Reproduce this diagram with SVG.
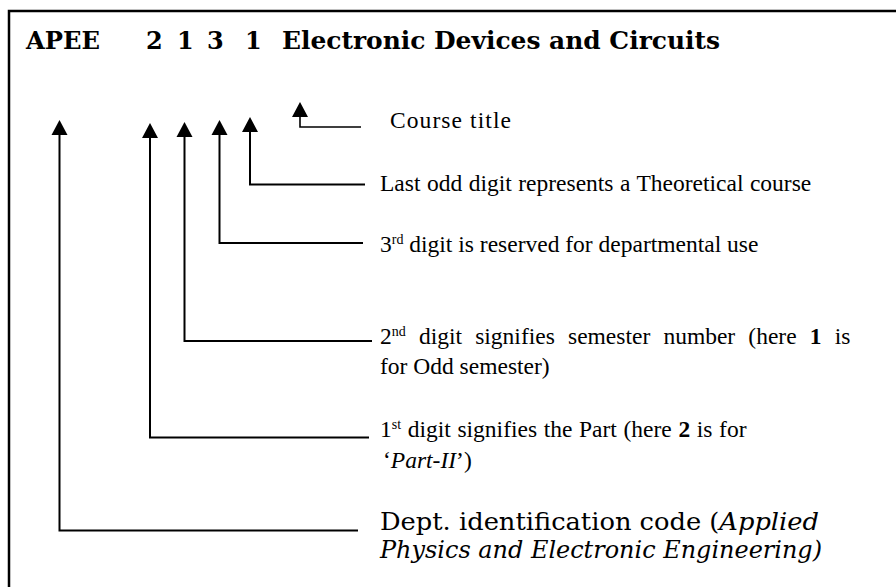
<svg xmlns="http://www.w3.org/2000/svg" xmlns:xlink="http://www.w3.org/1999/xlink" width="896" height="587" viewBox="0 0 896 587">
  <style>
    .frame { fill: none; stroke: #000; stroke-width: 2.5; }
    .lead { fill: none; stroke: #000; stroke-width: 2; }
    .rule { fill: none; stroke: #000; stroke-width: 1.6; }
    .head { fill: #000; }
    .title { font-family: "DejaVu Serif", "Liberation Serif", serif; font-weight: bold; font-size: 24px; fill: #000; }
    .note { font-family: "Liberation Serif", "Times New Roman", serif; font-size: 23.5px; fill: #000; }
    .school { font-family: "DejaVu Serif", "Liberation Serif", serif; font-size: 24px; fill: #000; }
    .sup { font-size: 14px; }
  </style>
  <defs>
    <path id="ah" d="M0,0 L-8,15 L8,15 Z"/>
  </defs>
  <rect width="896" height="587" fill="#fff"/>

  <!-- open frame: top and left edges -->
  <path class="frame" d="M9,587 L9,11 L896,11"/>

  <!-- course code heading -->
  <g id="heading">
    <text class="title" x="26" y="49" textLength="74" lengthAdjust="spacingAndGlyphs">APEE</text>
    <text class="title" x="146" y="49">2</text>
    <text class="title" x="177" y="49">1</text>
    <text class="title" x="207" y="49">3</text>
    <text class="title" x="245" y="49">1</text>
    <text class="title" x="282" y="49" textLength="438" lengthAdjust="spacingAndGlyphs">Electronic Devices and Circuits</text>
  </g>

  <!-- leader lines from each code part to its description -->
  <g id="connectors">
    <path class="rule" d="M300,115 L300,127 L361,127"/>
    <path class="lead" d="M250,131 L250,184.5 L365,184.5"/>
    <path class="lead" d="M219.5,134 L219.5,243 L363,243"/>
    <path class="lead" d="M184.5,136 L184.5,341 L372,341"/>
    <path class="lead" d="M150,137 L150,437.5 L369,437.5"/>
    <path class="lead" d="M59.5,134 L59.5,530.5 L358,530.5"/>
    <use class="head" xlink:href="#ah" x="300" y="102"/>
    <use class="head" xlink:href="#ah" x="250" y="117"/>
    <use class="head" xlink:href="#ah" x="219.5" y="120"/>
    <use class="head" xlink:href="#ah" x="184.5" y="122"/>
    <use class="head" xlink:href="#ah" x="150" y="123"/>
    <use class="head" xlink:href="#ah" x="59.5" y="120"/>
  </g>

  <g id="course-title">
    <text class="note" x="390" y="128" font-size="26" textLength="121" lengthAdjust="spacing">Course title</text>
  </g>

  <g id="last-digit">
    <text class="note" x="380" y="191" word-spacing="0.6">Last odd digit represents a Theoretical course</text>
  </g>

  <g id="third-digit">
    <text class="note" x="380" y="251.5">3<tspan class="sup" dy="-8">rd</tspan><tspan dy="8"> digit is reserved for departmental use</tspan></text>
  </g>

  <g id="second-digit">
    <text class="note" x="380" y="344" word-spacing="7.3">2<tspan class="sup" dy="-8">nd</tspan><tspan dy="8"> digit signifies semester number (here </tspan><tspan font-weight="bold">1</tspan> is</text>
    <text class="note" x="380" y="374">for Odd semester)</text>
  </g>

  <g id="first-digit">
    <text class="note" x="380" y="436.5" word-spacing="0.75">1<tspan class="sup" dy="-8">st</tspan><tspan dy="8"> digit signifies the Part (here </tspan><tspan font-weight="bold">2</tspan> is for</text>
    <text class="note" x="383" y="468">‘<tspan font-style="italic">Part-II</tspan>’)</text>
  </g>

  <g id="dept-code">
    <text class="school" x="380" y="530" textLength="439" lengthAdjust="spacingAndGlyphs">Dept. identification code (<tspan font-style="italic">Applied</tspan></text>
    <text class="school" x="380" y="558" font-style="italic" textLength="442" lengthAdjust="spacingAndGlyphs">Physics and Electronic Engineering)</text>
  </g>
</svg>
